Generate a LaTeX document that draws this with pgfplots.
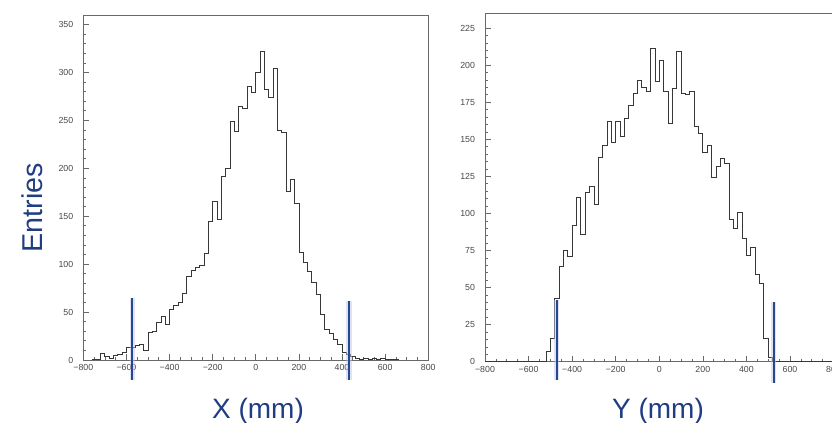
\documentclass[border=0pt]{standalone}
\usepackage{fontspec}
\setmainfont{Liberation Sans}
\usepackage{pgfplots}
\usepackage{pgfplotstable}
\pgfplotsset{compat=1.18}

\definecolor{titleblue}{RGB}{32,60,130}
\definecolor{cutblue}{RGB}{38,70,150}
\definecolor{framegray}{RGB}{105,105,105}
\definecolor{histgray}{RGB}{55,55,55}

% left edge of each 20 mm bin, entries
\pgfplotstableread{
x y
-800 0
-780 0
-760 1
-740 1
-720 7
-700 4
-680 2
-660 5
-640 6
-620 8
-600 13
-580 13
-560 15
-540 16
-520 10
-500 29
-480 30
-460 39
-440 45
-420 37
-400 53
-380 57
-360 60
-340 69
-320 87
-300 94
-280 97
-260 99
-240 111
-220 145
-200 165
-180 147
-160 192
-140 200
-120 249
-100 239
-80 265
-60 263
-40 286
-20 279
0 300
20 322
40 282
60 274
80 304
100 240
120 237
140 176
160 188
180 163
200 112
220 102
240 92
260 81
280 68
300 48
320 32
340 28
360 22
380 16
400 8
420 6
440 4
460 2
480 1
500 2
520 1
540 2
560 1
580 2
600 1
620 1
640 1
660 0
680 0
700 0
720 0
740 0
760 0
780 0
800 0
}\histx

\pgfplotstableread{
x y
-800 0
-780 0
-760 0
-740 0
-720 0
-700 0
-680 0
-660 0
-640 0
-620 0
-600 0
-580 0
-560 0
-540 0
-520 7
-500 16
-480 43
-460 64
-440 75
-420 71
-400 92
-380 111
-360 86
-340 114
-320 118
-300 106
-280 138
-260 146
-240 162
-220 148
-200 162
-180 152
-160 164
-140 173
-120 181
-100 190
-80 185
-60 182
-40 211
-20 189
0 203
20 182
40 161
60 184
80 209
100 181
120 180
140 182
160 159
180 154
200 141
220 146
240 124
260 132
280 137
300 134
320 96
340 90
360 101
380 83
400 72
420 77
440 59
460 53
480 16
500 3
520 0
540 0
560 0
580 0
600 0
620 0
640 0
660 0
680 0
700 0
720 0
740 0
760 0
780 0
800 0
}\histy

\pgfplotsset{
  roothist/.style={
    scale only axis,
    anchor=south west,
    xmin=-800, xmax=800,
    ymin=0,
    xtick={-800,-600,...,800},
    xticklabels={−800,−600,−400,−200,0,200,400,600,800},
    minor x tick num=3,
    tick pos=left,
    tick align=inside,
    major tick length=4.6pt,
    minor tick length=2.3pt,
    every tick/.append style={framegray, line width=0.5pt},
    axis line style={framegray, line width=0.6pt},
    ticklabel style={font=\fontsize{6.6}{7}\selectfont, text=black!72},
    yticklabel style={xshift=-4pt},
  },
  histline/.style={const plot, histgray, line width=0.6pt, mark=none},
}

\begin{document}
\begin{tikzpicture}
\path[use as bounding box, clip] (0,0) rectangle (624pt,317.25pt);

\begin{axis}[
  roothist,
  at={(62.48pt,47.25pt)},
  width=258.75pt, height=258.75pt,
  ymax=360,
  ytick={0,50,...,350},
  yticklabels={0,50,100,150,200,250,300,350},
  minor y tick num=4,
]
\addplot[histline] table[x=x, y=y] {\histx};
\coordinate (a1) at (axis cs:-572,64.6);
\coordinate (a2) at (axis cs:-572,-21);
\coordinate (b1) at (axis cs:433,61.8);
\coordinate (b2) at (axis cs:433,-21);
\end{axis}

\begin{axis}[
  roothist,
  at={(363.75pt,45.98pt)},
  width=261.4pt, height=261.3pt,
  ymax=235,
  ytick={0,25,...,225},
  yticklabels={0,25,50,75,100,125,150,175,200,225},
  minor y tick num=4,
]
\addplot[histline] table[x=x, y=y] {\histy};
\coordinate (c1) at (axis cs:-471,41.6);
\coordinate (c2) at (axis cs:-471,-12.3);
\coordinate (d1) at (axis cs:525,40);
\coordinate (d2) at (axis cs:525,-14.6);
\end{axis}

% cut lines
\foreach \p/\q in {a1/a2, b1/b2, c1/c2, d1/d2} {
  \draw[cutblue!30, line width=4pt, opacity=0.5] (\p) -- (\q);
  \draw[cutblue, line width=1.5pt] (\p) -- (\q);
}

\node[anchor=base, text=titleblue, font=\fontsize{21}{24}\selectfont] at (193.5pt,3.5pt) {X (mm)};
\node[anchor=base, text=titleblue, font=\fontsize{21}{24}\selectfont] at (493.5pt,3.5pt) {Y (mm)};
\node[anchor=base, rotate=90, text=titleblue, font=\fontsize{21.5}{24}\selectfont] at (31.5pt,161.6pt) {Entries};
\end{tikzpicture}
\end{document}
